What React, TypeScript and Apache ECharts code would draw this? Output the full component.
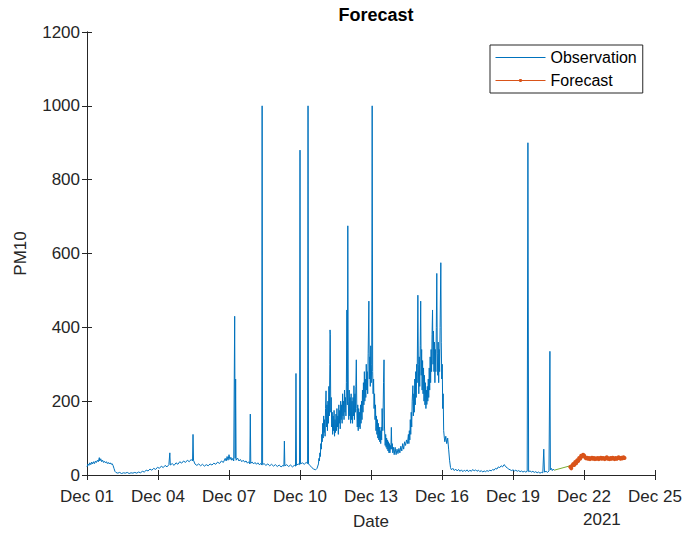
import React, { useEffect, useRef } from "react";
import * as echarts from "echarts";

// x values are days since Dec 01 00:00 (2021)
const xTickDays = [0, 3, 6, 9, 12, 15, 18, 21, 24];
const yTicks = [0, 200, 400, 600, 800, 1000, 1200];

const observation: [number, number][] = [
  [0, 22], [0.04, 30], [0.08, 26], [0.12, 33], [0.16, 28], [0.2, 35], [0.24, 30], [0.28, 36], [0.32, 31], [0.36, 38],
  [0.4, 34], [0.44, 40], [0.48, 36], [0.52, 47], [0.54, 38], [0.58, 44], [0.62, 36], [0.66, 40], [0.7, 34], [0.74, 37],
  [0.78, 33], [0.82, 36], [0.86, 31], [0.9, 34], [0.94, 30], [0.98, 33], [1.02, 29], [1.06, 31], [1.1, 26], [1.14, 18],
  [1.18, 10], [1.22, 7], [1.3, 5], [1.38, 7], [1.46, 4], [1.54, 6], [1.62, 5], [1.7, 7], [1.78, 4], [1.86, 6],
  [1.94, 5], [2.02, 7], [2.1, 5], [2.18, 8], [2.26, 6], [2.34, 10], [2.42, 8], [2.5, 13], [2.58, 11], [2.66, 16],
  [2.74, 13], [2.82, 18], [2.9, 15], [2.98, 21], [3.06, 18], [3.14, 24], [3.22, 20], [3.3, 26], [3.38, 22], [3.46, 28],
  [3.5, 60], [3.52, 27], [3.6, 31], [3.68, 26], [3.76, 33], [3.84, 29], [3.92, 36], [4.0, 32], [4.08, 38], [4.16, 34],
  [4.24, 40], [4.32, 36], [4.4, 42], [4.46, 38], [4.48, 110], [4.5, 40], [4.56, 30], [4.64, 26], [4.72, 30], [4.8, 25],
  [4.88, 29], [4.96, 24], [5.04, 28], [5.12, 25], [5.2, 30], [5.28, 27], [5.36, 32], [5.44, 29], [5.52, 35], [5.6, 31],
  [5.68, 38], [5.76, 34], [5.84, 45], [5.88, 38], [5.92, 50], [5.96, 40], [6.0, 55], [6.04, 42], [6.08, 48], [6.12, 40],
  [6.16, 45], [6.2, 38], [6.24, 430], [6.26, 45], [6.28, 260], [6.3, 40], [6.36, 46], [6.42, 38], [6.48, 42], [6.54, 36],
  [6.6, 40], [6.66, 35], [6.72, 38], [6.78, 32], [6.84, 36], [6.88, 30], [6.9, 165], [6.92, 32], [6.98, 35], [7.04, 30],
  [7.1, 34], [7.16, 29], [7.22, 33], [7.28, 28], [7.34, 31], [7.38, 27], [7.4, 1000], [7.42, 28], [7.48, 31], [7.56, 26],
  [7.64, 30], [7.72, 25], [7.8, 29], [7.88, 24], [7.96, 28], [8.04, 23], [8.12, 27], [8.2, 22], [8.28, 26], [8.32, 24],
  [8.34, 92], [8.36, 25], [8.44, 28], [8.52, 23], [8.6, 27], [8.68, 22], [8.76, 26], [8.81, 24], [8.83, 275], [8.85, 26],
  [8.92, 30], [8.98, 28], [9.0, 880], [9.02, 30], [9.1, 33], [9.18, 29], [9.26, 34], [9.32, 31], [9.34, 1000], [9.36, 30],
  [9.42, 26], [9.5, 20], [9.58, 16], [9.66, 14], [9.72, 18], [9.78, 30],
  [9.8, 45], [9.82, 38], [9.84, 60], [9.86, 50], [9.88, 85], [9.9, 70], [9.92, 110], [9.94, 90], [9.96, 140], [9.98, 100],
  [10.0, 160], [10.02, 115], [10.04, 150], [10.06, 105], [10.08, 180], [10.1, 228], [10.12, 130], [10.14, 190], [10.16, 120], [10.18, 200],
  [10.2, 140], [10.22, 240], [10.24, 160], [10.26, 300], [10.27, 393], [10.28, 380], [10.3, 170], [10.32, 210], [10.34, 130], [10.36, 170],
  [10.38, 110], [10.4, 160], [10.42, 120], [10.44, 175], [10.46, 105], [10.48, 150], [10.5, 115], [10.52, 165], [10.54, 120], [10.56, 180],
  [10.58, 130], [10.6, 160], [10.62, 110], [10.64, 190], [10.66, 140], [10.68, 175], [10.7, 125], [10.72, 200], [10.74, 150], [10.76, 190],
  [10.78, 140], [10.8, 220], [10.82, 160], [10.84, 200], [10.86, 150], [10.88, 230], [10.9, 170], [10.92, 210], [10.94, 160], [10.96, 250],
  [10.98, 447], [11.0, 190], [11.02, 675], [11.04, 200], [11.06, 150], [11.08, 230], [11.1, 160], [11.12, 210], [11.14, 140], [11.16, 220],
  [11.18, 150], [11.2, 200], [11.22, 140], [11.24, 210], [11.26, 160], [11.28, 242], [11.3, 150], [11.32, 220], [11.34, 170], [11.36, 240],
  [11.38, 312], [11.4, 180], [11.42, 130], [11.44, 190], [11.46, 120], [11.48, 180], [11.5, 130], [11.52, 170], [11.54, 125], [11.56, 190],
  [11.58, 140], [11.6, 200], [11.62, 150], [11.64, 230], [11.66, 170], [11.68, 250], [11.7, 190], [11.72, 280], [11.74, 200], [11.76, 260],
  [11.78, 210], [11.8, 300], [11.82, 230], [11.84, 280], [11.86, 220], [11.88, 330], [11.91, 471], [11.93, 260], [11.95, 320], [11.97, 240],
  [11.99, 350], [12.01, 250], [12.03, 300], [12.05, 1000], [12.07, 280], [12.09, 220], [12.11, 260], [12.13, 180], [12.15, 220], [12.17, 150],
  [12.19, 190], [12.21, 120], [12.23, 160], [12.25, 110], [12.27, 150], [12.29, 100], [12.31, 140], [12.33, 95], [12.35, 130], [12.37, 90],
  [12.39, 120], [12.41, 85], [12.43, 130], [12.45, 95], [12.47, 180], [12.5, 120], [12.53, 250], [12.55, 312], [12.57, 130], [12.6, 80],
  [12.62, 110], [12.64, 75], [12.66, 100], [12.68, 70], [12.7, 95], [12.72, 65], [12.74, 90], [12.76, 60], [12.78, 85], [12.8, 60],
  [12.82, 80], [12.84, 70], [12.86, 129], [12.88, 70], [12.9, 85], [12.92, 60], [12.95, 75], [12.98, 55],
  [13.02, 75], [13.06, 55], [13.1, 70], [13.14, 58], [13.18, 72], [13.22, 60], [13.26, 78], [13.3, 65],
  [13.34, 85], [13.38, 70], [13.42, 90], [13.46, 80], [13.5, 95], [13.54, 85], [13.58, 110],
  [13.6, 85], [13.62, 120], [13.64, 95], [13.66, 150], [13.68, 110], [13.7, 170], [13.72, 130], [13.74, 200], [13.77, 242], [13.79, 160],
  [13.81, 220], [13.83, 170], [13.85, 260], [13.87, 190], [13.89, 280], [13.91, 210], [13.93, 300], [13.95, 250], [13.98, 487], [14.0, 300],
  [14.02, 220], [14.04, 320], [14.06, 240], [14.08, 350], [14.1, 471], [14.12, 270], [14.14, 340], [14.16, 230], [14.18, 310], [14.2, 220],
  [14.22, 290], [14.24, 200], [14.26, 270], [14.28, 190], [14.3, 250], [14.32, 180], [14.34, 230], [14.36, 191], [14.38, 240], [14.4, 200],
  [14.42, 260], [14.44, 210], [14.46, 290], [14.48, 230], [14.5, 320], [14.52, 250], [14.54, 340], [14.56, 280], [14.58, 380], [14.6, 447],
  [14.62, 300], [14.64, 390], [14.66, 280], [14.68, 360], [14.7, 250], [14.72, 340], [14.74, 280], [14.76, 400], [14.78, 546], [14.8, 330],
  [14.82, 270], [14.84, 360], [14.86, 250], [14.88, 340], [14.9, 280], [14.92, 400], [14.95, 575], [14.97, 358], [14.99, 260], [15.01, 300],
  [15.03, 180], [15.05, 220], [15.07, 120], [15.1, 100], [15.12, 90],
  [15.16, 105], [15.2, 85], [15.24, 100], [15.28, 70], [15.32, 40], [15.36, 20], [15.4, 14], [15.46, 18], [15.52, 12], [15.58, 16],
  [15.64, 11], [15.7, 15], [15.76, 10], [15.82, 14], [15.88, 9], [15.94, 13], [16.0, 10], [16.06, 14], [16.12, 9], [16.18, 13],
  [16.24, 10], [16.3, 15], [16.36, 11], [16.42, 14], [16.48, 10], [16.54, 13], [16.6, 9], [16.66, 12], [16.72, 8], [16.78, 11],
  [16.84, 9], [16.9, 12], [16.96, 10], [17.02, 13], [17.08, 11], [17.14, 15], [17.2, 13], [17.26, 18], [17.32, 16], [17.38, 22],
  [17.44, 20], [17.5, 25], [17.56, 22], [17.62, 28], [17.66, 26], [17.7, 22], [17.76, 19], [17.82, 16], [17.88, 14], [17.94, 12],
  [18.0, 14], [18.06, 11], [18.12, 13], [18.18, 10], [18.24, 12], [18.3, 9], [18.36, 11], [18.42, 8], [18.48, 10], [18.54, 8],
  [18.6, 10], [18.63, 900], [18.66, 9], [18.72, 11], [18.78, 8], [18.84, 10], [18.9, 7], [18.96, 9], [19.02, 6], [19.08, 8],
  [19.14, 5], [19.2, 7], [19.26, 6], [19.3, 70], [19.33, 8], [19.4, 10], [19.46, 7], [19.52, 11], [19.56, 335], [19.58, 14],
  [19.62, 18], [19.66, 12], [19.7, 16], [19.74, 13],
];

const connector: [number, number][] = [
  [19.74, 13],
  [20.42, 25],
];

const forecastStartDay = 20.42;
const forecastValues = [
  22, 18, 26, 30, 27, 35, 32, 40, 38, 46, 44, 52, 50, 55, 53, 48, 45, 47, 44, 46,
  43, 45, 47, 44, 46, 43, 45, 44, 46, 43, 45, 47, 44, 46, 45, 43, 46, 48, 44, 45,
  43, 46, 44, 47, 45, 43, 46, 44, 45, 48, 46, 44, 47, 45, 48, 46,
];

const FONT = "'Liberation Sans', Arial, Helvetica, sans-serif";
const AX = "#262626";

function dayLabel(v: number) {
  const d = Math.round(v) + 1;
  return "Dec " + (d < 10 ? "0" + d : String(d));
}

export default function App() {
  const ref = useRef<HTMLDivElement>(null);
  useEffect(() => {
    if (!ref.current) return;
    const chart = echarts.init(ref.current, null, { renderer: "svg" });
    const forecast = forecastValues.map((v, i) => [forecastStartDay + i / 24, v]);
    const axisCommon = {
      axisLine: { show: true, lineStyle: { color: AX, width: 1 } },
      axisTick: { show: true, inside: true, length: 5, lineStyle: { color: AX } },
      splitLine: { show: false },
    };
    chart.setOption({
      animation: false,
      backgroundColor: "#fff",
      textStyle: { fontFamily: FONT },
      title: {
        text: "Forecast",
        left: 371,
        top: 1,
        textAlign: "center",
        textStyle: { fontFamily: FONT, fontSize: 18, fontWeight: "bold", color: "#000" },
      },
      grid: { left: 87, right: 45, top: 32, bottom: 57, containLabel: false },
      legend: {
        data: [
          { name: "Observation", itemStyle: { opacity: 0 } },
          { name: "Forecast" },
        ],
        orient: "vertical",
        left: 490,
        top: 45,
        itemWidth: 50,
        itemHeight: 4,
        itemGap: 4,
        padding: [3, 6, 3, 5],
        lineStyle: { width: 1 },
        borderColor: AX,
        borderWidth: 1,
        backgroundColor: "#fff",
        textStyle: { fontFamily: FONT, fontSize: 16, color: "#000", lineHeight: 19 },
      },
      xAxis: [
        {
          type: "value",
          min: 0,
          max: 24,
          interval: 3,
          name: "Date",
          nameLocation: "middle",
          nameGap: 38,
          nameTextStyle: { fontFamily: FONT, fontSize: 17, color: AX },
          axisLabel: { formatter: dayLabel, fontFamily: FONT, fontSize: 17, color: AX, margin: 13 },
          ...axisCommon,
        },
        {
          type: "value",
          position: "top",
          min: 0,
          max: 24,
          interval: 3,
          axisLabel: { show: false },
          ...axisCommon,
        },
      ],
      yAxis: [
        {
          type: "value",
          min: 0,
          max: 1200,
          interval: 200,
          name: "PM10",
          nameLocation: "middle",
          nameGap: 58,
          nameTextStyle: { fontFamily: FONT, fontSize: 17, color: AX },
          axisLabel: { formatter: (v: number) => String(v), fontFamily: FONT, fontSize: 17, color: AX, margin: 7 },
          ...axisCommon,
        },
        {
          type: "value",
          position: "right",
          min: 0,
          max: 1200,
          interval: 200,
          axisLabel: { show: false },
          ...axisCommon,
        },
      ],
      graphic: [
        {
          type: "text",
          left: 583,
          top: 511,
          style: { text: "2021", fontFamily: FONT, fontSize: 17, fill: AX },
        },
      ],
      series: [
        {
          name: "Observation",
          type: "line",
          data: observation,
          symbol: "none",
          showSymbol: false,
          lineStyle: { color: "#0072BD", width: 1 },
          itemStyle: { color: "#0072BD" },
          z: 2,
        },
        {
          name: "connector",
          type: "line",
          data: connector,
          symbol: "none",
          showSymbol: false,
          lineStyle: { color: "#77AC30", width: 1 },
          z: 2,
        },
        {
          name: "Forecast",
          type: "line",
          data: forecast,
          symbol: "circle",
          symbolSize: 4,
          showSymbol: true,
          lineStyle: { color: "#D95319", width: 1 },
          itemStyle: { color: "#D95319" },
          z: 3,
        },
      ],
    });
    return () => chart.dispose();
  }, []);
  return (
    <div
      ref={ref}
      style={{ position: "absolute", left: 0, top: 0, width: 700, height: 535 }}
    />
  );
}
